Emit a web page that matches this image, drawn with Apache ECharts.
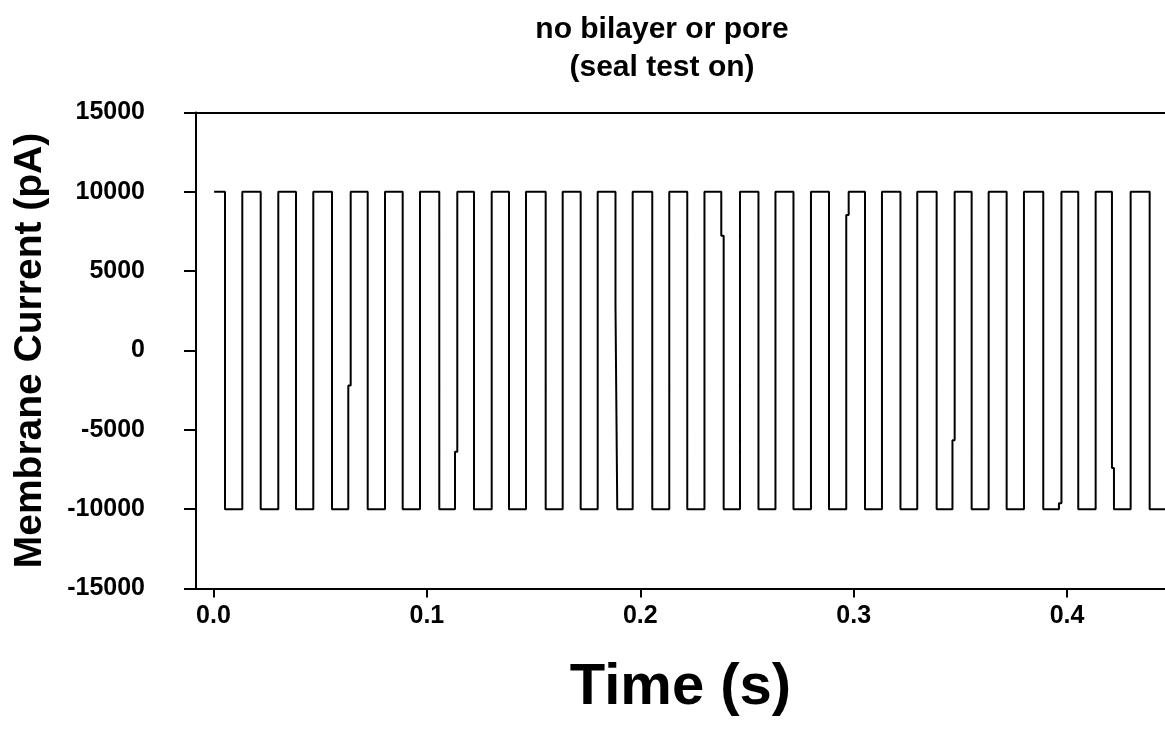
<!DOCTYPE html>
<html>
<head>
<meta charset="utf-8">
<title>Seal test</title>
<script src="https://cdn.jsdelivr.net/npm/echarts@6/dist/echarts.min.js"></script>
<style>
  html, body { margin: 0; padding: 0; background: #fff; }
  #chart { width: 1165px; height: 733px; }
</style>
</head>
<body>
<div id="chart"></div>
<script>
// Seal-test square wave: membrane current steps between two levels.
const highLevel = 10000;   // pA
const lowLevel = -10000;   // pA
const sweepStart = 0.0003; // s
const sweepEnd = 0.4465;   // s

// Times (s) of the rising and falling edges of the trace
const riseTimes = [0.01350, 0.03037, 0.04677, 0.06396, 0.08036, 0.09677, 0.11364,
  0.13037, 0.14644, 0.16364, 0.18004, 0.19644, 0.21359, 0.23008, 0.24672, 0.26335,
  0.27999, 0.29686, 0.31326, 0.32980, 0.34700, 0.36326, 0.37980, 0.39667, 0.41340,
  0.42980];
const fallTimes = [0.00539, 0.02212, 0.03866, 0.05553, 0.07226, 0.08866, 0.10581,
  0.12207, 0.13847, 0.15567, 0.17207, 0.18873, 0.20562, 0.22202, 0.23852, 0.25539,
  0.27179, 0.28843, 0.30530, 0.32193, 0.33889, 0.35529, 0.37169, 0.38885, 0.40525,
  0.42151, 0.43871];

// Edges that were sampled mid-transition: an intermediate point between two samples
const kinkStart = [0.06317, 0.11317, 0.18838, 0.23796, 0.29653, 0.34630, 0.39620, 0.42104];
const kinkEnd   = [0.06429, 0.11425, 0.18922, 0.23908, 0.29766, 0.34733, 0.39737, 0.42198];
const kinkLevel = [-2200, -6380, 2870, 7240, 8540, -5650, -9630, -7400];

// Axis ticks
const xTicks = [0.0, 0.1, 0.2, 0.3, 0.4];
const yTicks = [-15000, -10000, -5000, 0, 5000, 10000, 15000];

function buildTrace() {
  const edges = riseTimes.map(t => ({ t, up: true }))
    .concat(fallTimes.map(t => ({ t, up: false })))
    .sort((a, b) => a.t - b.t);
  const pts = [[sweepStart, highLevel]];
  edges.forEach(e => {
    const from = e.up ? lowLevel : highLevel;
    const to = e.up ? highLevel : lowLevel;
    const k = kinkStart.findIndex(ks => Math.abs(ks - e.t) < 0.002);
    if (k >= 0) {
      pts.push([kinkStart[k], from], [kinkStart[k], kinkLevel[k]],
               [kinkEnd[k], kinkLevel[k]], [kinkEnd[k], to]);
    } else {
      pts.push([e.t, from], [e.t, to]);
    }
  });
  pts.push([sweepEnd, lowLevel]);
  return pts;
}

const font = "'Liberation Sans', Arial, sans-serif";
const chart = echarts.init(document.getElementById('chart'), null, { renderer: 'canvas' });

chart.setOption({
  animation: false,
  backgroundColor: '#ffffff',
  title: {
    text: 'no bilayer or pore\n(seal test on)',
    left: 657,
    top: 6,
    textAlign: 'center',
    textStyle: {
      fontFamily: font, fontWeight: 'bold', fontSize: 30, color: '#000',
      lineHeight: 38
    }
  },
  grid: { left: 196, right: 0, top: 112.5, bottom: 144.5, containLabel: false },
  xAxis: [{
    type: 'value',
    min: -0.0082,
    max: 0.4459,
    name: 'Time (s)',
    nameLocation: 'middle',
    nameGap: 70,
    nameTextStyle: { fontFamily: font, fontWeight: 'bold', fontSize: 58, color: '#000' },
    axisLine: { show: true, onZero: false, lineStyle: { color: '#000', width: 2 } },
    axisTick: { show: true, length: 9, lineStyle: { color: '#000', width: 2 }, customValues: xTicks },
    axisLabel: {
      customValues: xTicks,
      formatter: v => v.toFixed(1),
      margin: 15,
      fontFamily: font, fontWeight: 'bold', fontSize: 25, color: '#000'
    },
    splitLine: { show: false }
  }, {
    type: 'value',
    position: 'top',
    min: -0.0082,
    max: 0.4459,
    axisLine: { show: true, onZero: false, lineStyle: { color: '#000', width: 2 } },
    axisTick: { show: false },
    axisLabel: { show: false },
    splitLine: { show: false }
  }],
  yAxis: {
    type: 'value',
    min: yTicks[0],
    max: yTicks[yTicks.length - 1],
    interval: 5000,
    name: 'Membrane Current (pA)',
    nameLocation: 'middle',
    nameGap: 146,
    nameTextStyle: { fontFamily: font, fontWeight: 'bold', fontSize: 39, color: '#000' },
    axisLine: { show: true, onZero: false, lineStyle: { color: '#000', width: 2 } },
    axisTick: { show: true, length: 12, lineStyle: { color: '#000', width: 2 } },
    axisLabel: {
      margin: 51,
      formatter: v => String(v),
      fontFamily: font, fontWeight: 'bold', fontSize: 25, color: '#000'
    },
    splitLine: { show: false }
  },
  series: [{
    type: 'line',
    xAxisIndex: 0,
    data: buildTrace(),
    showSymbol: false,
    clip: true,
    lineStyle: { color: '#000', width: 2 }
  }]
});
</script>
</body>
</html>
